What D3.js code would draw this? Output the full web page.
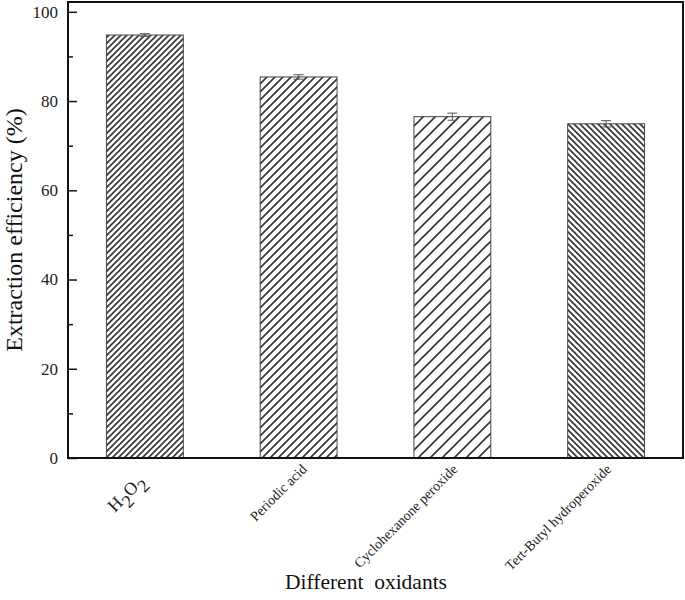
<!DOCTYPE html>
<html><head><meta charset="utf-8">
<script src="https://cdn.jsdelivr.net/npm/d3@7"></script>
<style>body{margin:0;background:#fff}svg{display:block}</style>
</head><body>
<script>
const categories = ["H2O2", "Periodic acid", "Cyclohexanone peroxide", "Tert-Butyl hydroperoxide"];
const values = [94.8, 85.4, 76.5, 74.9];
const errors = [0.3, 0.5, 0.8, 0.7];
const yTicks = [0, 20, 40, 60, 80, 100];
const yMinorTicks = [10, 30, 50, 70, 90];
const patternSpacing = [6, 8, 12, 6];
const patternDir = ["/", "/", "/", "\\"];

const W = 685, H = 600;
const m = {left: 68, right: 2, top: 2, bottom: 142};
const svg = d3.select("body").append("svg").attr("width", W).attr("height", H);
const defs = svg.append("defs");
categories.forEach((c, i) => {
  const s = patternSpacing[i];
  const p = defs.append("pattern").attr("id", "pat" + i)
    .attr("patternUnits", "userSpaceOnUse").attr("width", s).attr("height", s);
  p.append("rect").attr("width", s).attr("height", s).attr("fill", "#fff");
  const d = patternDir[i] === "/"
    ? `M0,${s} L${s},0 M${-s/2},${s/2} L${s/2},${-s/2} M${s/2},${s*1.5} L${s*1.5},${s/2}`
    : `M0,0 L${s},${s} M${-s/2},${s/2} L${s/2},${s*1.5} M${s/2},${-s/2} L${s*1.5},${s/2}`;
  p.append("path").attr("d", d).attr("stroke", "#333").attr("stroke-width", 1.6);
});

const x = d3.scaleBand().domain(categories).range([m.left, W - m.right]).paddingInner(0.5).paddingOuter(0.25);
const y = d3.scaleLinear().domain([0, 102.2]).range([H - m.bottom, m.top]);

const g = svg.append("g");
g.selectAll("rect.bar").data(categories).join("rect").attr("class", "bar")
  .attr("x", d => x(d)).attr("width", x.bandwidth())
  .attr("y", (d, i) => y(values[i])).attr("height", (d, i) => y(0) - y(values[i]))
  .attr("fill", (d, i) => `url(#pat${i})`).attr("stroke", "#444").attr("stroke-width", 1);

// error bars
const eb = g.selectAll("g.err").data(categories).join("g").attr("class", "err")
  .attr("stroke", "#555").attr("stroke-width", 1);
eb.append("line").attr("x1", d => x(d) + x.bandwidth()/2).attr("x2", d => x(d) + x.bandwidth()/2)
  .attr("y1", (d, i) => y(values[i] - errors[i])).attr("y2", (d, i) => y(values[i] + errors[i]));
eb.append("line").attr("x1", d => x(d) + x.bandwidth()/2 - 5).attr("x2", d => x(d) + x.bandwidth()/2 + 5)
  .attr("y1", (d, i) => y(values[i] + errors[i])).attr("y2", (d, i) => y(values[i] + errors[i]));
eb.append("line").attr("x1", d => x(d) + x.bandwidth()/2 - 5).attr("x2", d => x(d) + x.bandwidth()/2 + 5)
  .attr("y1", (d, i) => y(values[i] - errors[i])).attr("y2", (d, i) => y(values[i] - errors[i]));

// frame
svg.append("rect").attr("x", m.left).attr("y", m.top).attr("width", W - m.right - m.left)
  .attr("height", y(0) - m.top).attr("fill", "none").attr("stroke", "#111").attr("stroke-width", 2);

// y axis (ticks inward)
const yAx = svg.append("g").attr("transform", `translate(${m.left},0)`)
  .call(d3.axisRight(y).tickValues(yTicks).tickSize(9).tickFormat(""));
yAx.select(".domain").remove();
yAx.selectAll("line").attr("stroke", "#111").attr("stroke-width", 1.5);
const yMin = svg.append("g").attr("transform", `translate(${m.left},0)`)
  .call(d3.axisRight(y).tickValues(yMinorTicks).tickSize(5).tickFormat(""));
yMin.select(".domain").remove();
yMin.selectAll("line").attr("stroke", "#111").attr("stroke-width", 1.5);
svg.append("g").selectAll("text").data(yTicks).join("text")
  .attr("x", m.left - 10).attr("y", d => y(d)).attr("dy", "0.35em")
  .attr("text-anchor", "end").attr("font-family", "Liberation Serif").attr("font-size", 17)
  .attr("fill", "#222").text(d => d);

// x labels
const xl = svg.append("g").attr("font-family", "Liberation Serif").attr("fill", "#222");
categories.forEach((c, i) => {
  const cx = x(c) + x.bandwidth()/2;
  if (i === 0) {
    const t = xl.append("text").attr("transform", `translate(${cx + 1},${H - m.bottom + 24}) rotate(-45)`)
      .attr("text-anchor", "end").attr("font-size", 18);
    t.append("tspan").text("H");
    t.append("tspan").attr("dy", 7).text("2");
    t.append("tspan").attr("dy", -7).text("O");
    t.append("tspan").attr("dy", 7).text("2");
  } else {
    xl.append("text").attr("transform", `translate(${cx + (i === 1 ? 9 : 6)},${H - m.bottom + 12}) rotate(-45)`)
      .attr("text-anchor", "end").attr("font-size", 14).text(c);
  }
});

// axis titles
svg.append("text").attr("transform", `translate(22,${(m.top + y(0))/2}) rotate(-90)`)
  .attr("text-anchor", "middle").attr("font-family", "Liberation Serif").attr("font-size", 24)
  .attr("fill", "#111").text("Extraction efficiency (%)");
svg.append("text").attr("x", 366).attr("y", 589).attr("text-anchor", "middle")
  .attr("font-family", "Liberation Serif").attr("font-size", 21.5).attr("fill", "#111")
  .attr("xml:space", "preserve").style("white-space", "pre").text("Different  oxidants");
</script>
</body></html>
